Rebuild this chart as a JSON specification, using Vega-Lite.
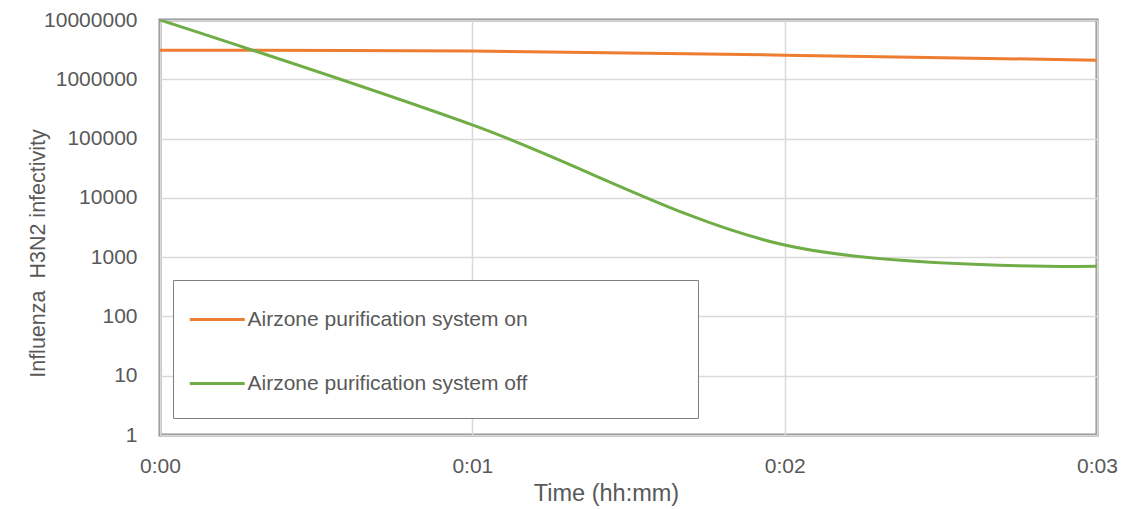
{
  "$schema": "https://vega.github.io/schema/vega-lite/v6.json",
  "width": 937,
  "height": 415,
  "autosize": {"type": "none"},
  "padding": {"left": 160, "top": 20, "right": 33, "bottom": 74},
  "background": "white",
  "config": {
    "font": "Liberation Sans",
    "view": {"stroke": "#8c8c8c", "strokeWidth": 3}
  },
  "data": {
    "values": [
      {"minute": 0, "value": 3100000, "series": "Airzone purification system on"},
      {"minute": 1, "value": 3000000, "series": "Airzone purification system on"},
      {"minute": 2, "value": 2550000, "series": "Airzone purification system on"},
      {"minute": 3, "value": 2100000, "series": "Airzone purification system on"},
      {"minute": 0, "value": 10000000, "series": "Airzone purification system off"},
      {"minute": 1, "value": 170000, "series": "Airzone purification system off"},
      {"minute": 2, "value": 1600, "series": "Airzone purification system off"},
      {"minute": 3, "value": 700, "series": "Airzone purification system off"}
    ]
  },
  "mark": {"type": "line", "interpolate": "cardinal", "tension": 0, "strokeWidth": 3, "clip": true},
  "encoding": {
    "x": {
      "field": "minute",
      "type": "quantitative",
      "scale": {"domain": [0, 3], "nice": false, "zero": true},
      "axis": {
        "title": "Time (hh:mm)",
        "values": [0, 1, 2, 3],
        "labelExpr": "'0:0' + datum.value",
        "labelFlush": false,
        "labelOverlap": false,
        "domain": false,
        "ticks": false,
        "tickSize": 0,
        "grid": true,
        "gridColor": "#d9d9d9",
        "gridWidth": 1.5,
        "labelFontSize": 21,
        "labelColor": "#595959",
        "labelPadding": 20,
        "titleFontSize": 23.5,
        "titleFontWeight": "normal",
        "titleColor": "#595959",
        "titleBaseline": "alphabetic",
        "titleX": 446,
        "titleY": 65
      }
    },
    "y": {
      "field": "value",
      "type": "quantitative",
      "scale": {"type": "log", "domain": [1, 10000000], "nice": false},
      "axis": {
        "title": "Influenza\u00a0 H3N2 infectivity",
        "values": [1, 10, 100, 1000, 10000, 100000, 1000000, 10000000],
        "format": "d",
        "labelOverlap": false,
        "domain": false,
        "ticks": false,
        "tickSize": 0,
        "grid": true,
        "gridColor": "#d9d9d9",
        "gridWidth": 1.5,
        "labelFontSize": 21,
        "labelColor": "#595959",
        "labelPadding": 23,
        "titleFontSize": 21.5,
        "titleFontWeight": "normal",
        "titleColor": "#595959",
        "titleBaseline": "middle",
        "titleX": -122,
        "titleY": 233
      }
    },
    "color": {
      "field": "series",
      "type": "nominal",
      "sort": ["Airzone purification system on", "Airzone purification system off"],
      "scale": {
        "domain": ["Airzone purification system on", "Airzone purification system off"],
        "range": ["#ED7D31", "#70AD47"]
      },
      "legend": {
        "title": null,
        "orient": "none",
        "legendX": 13,
        "legendY": 260,
        "direction": "vertical",
        "symbolType": "M-1.655,0H2.345",
        "symbolSize": 756,
        "symbolStrokeWidth": 3,
        "symbolFillColor": "transparent",
        "labelFontSize": 21,
        "labelColor": "#595959",
        "labelOffset": 19.5,
        "labelLimit": 900,
        "labelExpr": "datum.label + '\u00a0\u00a0\u00a0\u00a0\u00a0\u00a0\u00a0\u00a0\u00a0\u00a0\u00a0\u00a0\u00a0\u00a0\u00a0\u00a0\u00a0\u00a0\u00a0\u00a0\u00a0\u00a0\u00a0\u00a0\u00a0\u200b'",
        "rowPadding": 38,
        "padding": 24,
        "strokeColor": "#7f7f7f",
        "fillColor": "white"
      }
    }
  }
}
